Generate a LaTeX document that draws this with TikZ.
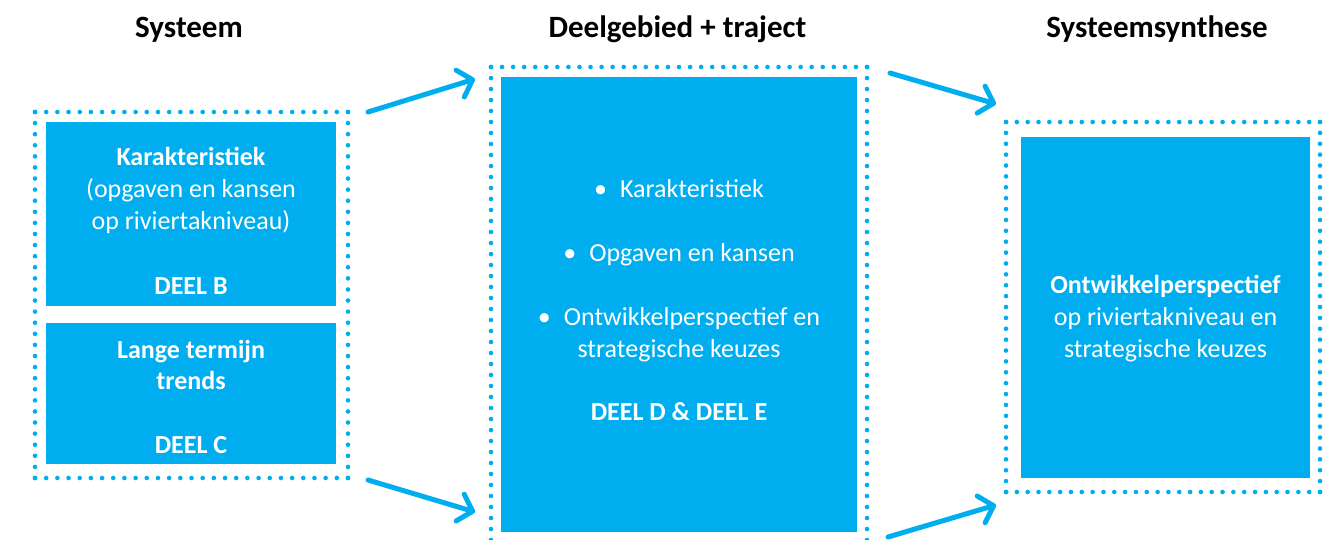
\documentclass[tikz,border=0pt]{standalone}
\usepackage{fontspec}
\setmainfont{Carlito}
\usetikzlibrary{arrows.meta}
\definecolor{blu}{HTML}{00AEEF}
\newcommand\mydotframe[4]{%
  \pgfmathsetmacro\dfw{(#3-#1)/round((#3-#1)/11)}%
  \pgfmathsetmacro\dfh{(#4-#2)/round((#4-#2)/11)}%
  \draw[dotsty, dash pattern=on 0pt off \dfw pt] (#1,#2) -- (#3+0.5,#2) (#1,#4) -- (#3+0.5,#4);
  \draw[dotsty, dash pattern=on 0pt off \dfh pt] (#1,#2) -- (#1,#4+0.5) (#3,#2) -- (#3,#4+0.5);
}
\begin{document}
\begin{tikzpicture}[x=1pt,y=-1pt,
  dotsty/.style={blu, line width=4.6pt, line cap=round},
  box/.style={fill=blu, draw=none, inner sep=0pt, outer sep=0pt, anchor=north west},
  txt/.style={text=white, font=\fontsize{26}{31.7}\selectfont, anchor=base, inner sep=0pt},
  ttl/.style={text=black, font=\fontsize{31}{37}\selectfont\bfseries, anchor=base, inner sep=0pt},
  arr/.style={blu, line width=5pt, line cap=round,
    -{Straight Barb[length=13pt,width=28pt,line cap=round,line join=round]}}]
\useasboundingbox (0,0) rectangle (1338,540);
\clip (0,0) rectangle (1338,540);
% titles
\node[ttl] (t1) at (189,38) {Systeem};
\node[ttl] (t2) at (677.5,38) {Deelgebied + traject};
\node[ttl] (t3) at (1157,38) {Systeemsynthese};
% dotted frames
\mydotframe{35}{112}{348}{478}
\mydotframe{491}{67}{867}{551}
\mydotframe{1006}{122}{1320}{492}
% boxes
\node[box, minimum width=290pt, minimum height=184pt] (deelB) at (46,122) {};
\node[box, minimum width=290pt, minimum height=141pt] (deelC) at (46,323) {};
\node[box, minimum width=356pt, minimum height=455pt] (deelDE) at (501,77) {};
\node[box, minimum width=289pt, minimum height=341pt] (synth) at (1021,137) {};
% box B text
\node[txt] (b1) at (191,165.7) {\bfseries Karakteristiek};
\node[txt] (b2) at (191,197.4) {(opgaven en kansen};
\node[txt] (b3) at (191,229.1) {op riviertakniveau)};
\node[txt] (b4) at (191,294.5) {\bfseries DEEL B};
% box C text
\node[txt] (c1) at (191,358) {\bfseries Lange termijn};
\node[txt] (c2) at (191,389.5) {\bfseries trends};
\node[txt] (c3) at (191,453) {\bfseries DEEL C};
% middle text
\node[txt] (m1) at (679,197.3) {\textbullet\hspace{13pt}Karakteristiek};
\node[txt] (m2) at (679,261.7) {\textbullet\hspace{13pt}Opgaven en kansen};
\node[txt] (m3) at (679,325.7) {\textbullet\hspace{13pt}Ontwikkelperspectief en};
\node[txt] (m4) at (679,357.2) {strategische keuzes};
\node[txt] (m5) at (679,420) {\bfseries DEEL D \& DEEL E};
% right text
\node[txt] (r1) at (1165.5,293.5) {\bfseries Ontwikkelperspectief};
\node[txt] (r2) at (1165.5,325.5) {op riviertakniveau en};
\node[txt] (r3) at (1165.5,357.2) {strategische keuzes};
% arrows
\coordinate (a1s) at (368,112);
\coordinate (a1e) at (475,79);
\coordinate (a2s) at (368,480);
\coordinate (a2e) at (475,512);
\coordinate (a3s) at (890,73);
\coordinate (a3e) at (996,104);
\coordinate (a4s) at (888,537);
\coordinate (a4e) at (996,505);
\draw[arr] (a1s) -- (a1e);
\draw[arr] (a2s) -- (a2e);
\draw[arr] (a3s) -- (a3e);
\draw[arr] (a4s) -- (a4e);
\end{tikzpicture}
\end{document}
